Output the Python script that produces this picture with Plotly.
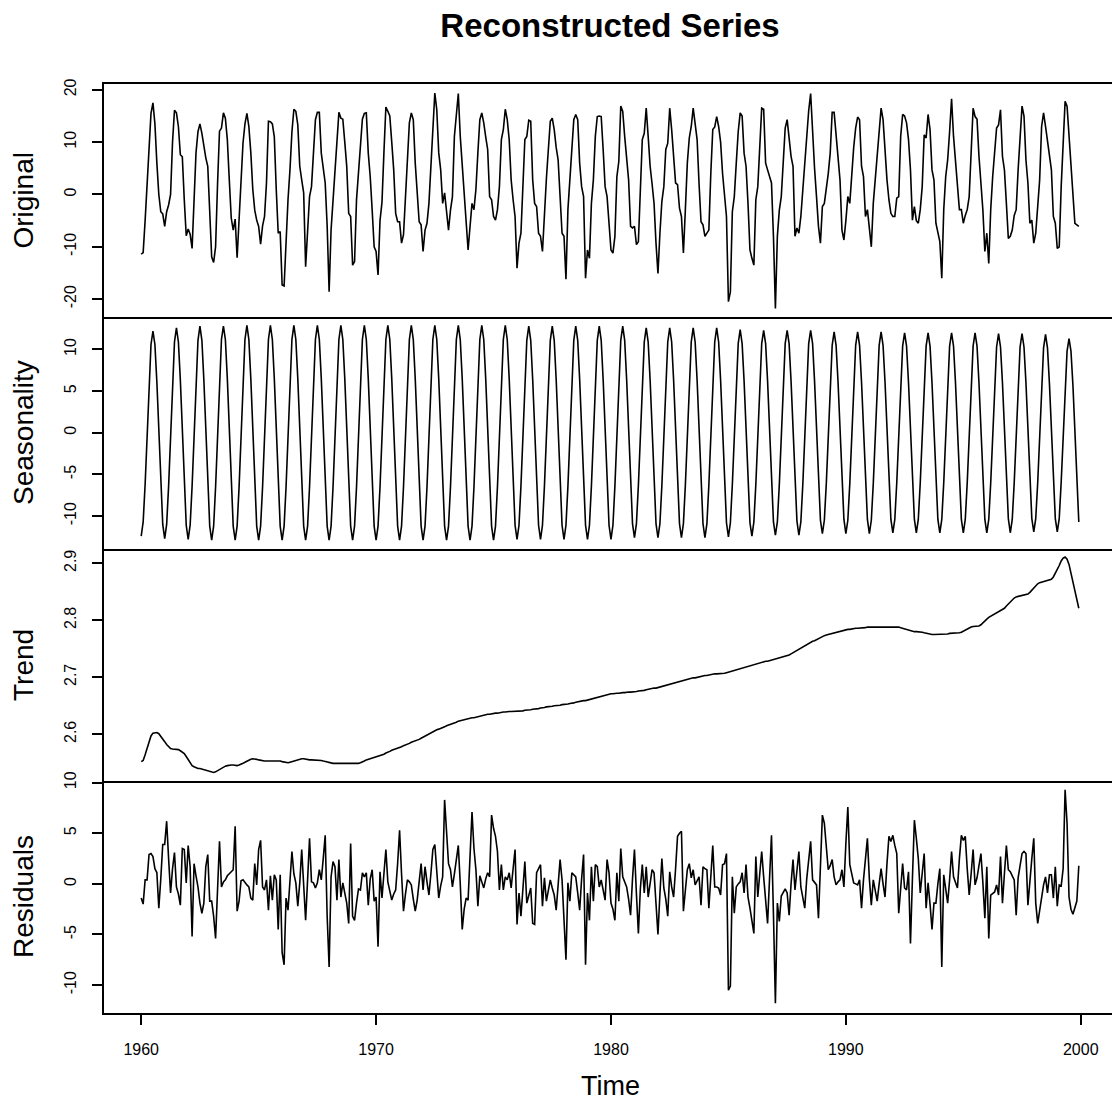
import plotly.graph_objects as go
from plotly.subplots import make_subplots

# ---------------- data (monthly, Jan 1960 - Dec 1999) ----------------
start_year = 1960
frequency = 12

original = [
    -11.4, -11.1, -5.0, 2.5, 10.0, 15.5, 17.5, 13.5, 6.0, 0.0, -3.3, -3.7,
    -6.1, -3.3, -2.0, 0.0, 10.0, 16.1, 15.6, 13.0, 7.6, 7.2, -1.0, -7.9,
    -6.6, -7.6, -10.3, 1.0, 8.0, 12.0, 13.5, 11.7, 9.0, 7.0, 5.4, -3.0,
    -11.9, -13.0, -10.0, 2.0, 12.1, 12.7, 15.6, 14.6, 10.5, 2.8, -4.5, -6.8,
    -4.7, -12.1, -5.0, 0.3, 9.8, 13.5, 15.5, 13.0, 8.0, 1.0, -3.0, -4.9,
    -6.1, -9.5, -6.0, -4.2, 2.2, 14.0, 13.9, 13.5, 11.0, 0.9, -7.4, -7.1,
    -17.3, -17.5, -8.0, -1.0, 4.7, 12.0, 16.3, 15.9, 13.3, 5.4, 2.8, 0.3,
    -13.8, -6.0, -0.4, 1.5, 8.0, 14.3, 15.7, 15.7, 7.9, 5.0, 2.2, -6.0,
    -18.6, -6.8, -1.0, 3.4, 11.1, 15.7, 14.6, 14.4, 10.0, 5.4, -3.6, -4.2,
    -13.5, -12.8, -1.0, 4.0, 7.9, 14.4, 15.5, 15.6, 7.9, 3.4, -3.0, -10.0,
    -10.9, -15.4, -5.0, -1.5, 8.0, 16.7, 15.9, 15.0, 10.0, 4.7, -3.6, -5.2,
    -5.2, -9.3, -7.7, 0.3, 7.0, 13.7, 15.6, 14.3, 6.0, 0.0, -5.2, -5.8,
    -10.9, -6.8, -5.5, -1.7, 5.0, 11.1, 19.4, 16.2, 8.0, 4.7, -1.7, 0.3,
    -3.6, -6.8, -3.0, -0.4, 11.1, 15.0, 19.3, 11.1, 6.0, 1.5, -3.6, -10.6,
    -6.1, -1.7, -2.9, 1.0, 8.0, 14.3, 15.6, 13.7, 11.0, 8.6, -0.4, -1.0,
    -4.2, -4.9, -2.9, 1.5, 10.5, 12.4, 16.3, 14.3, 10.5, 2.8, -1.0, -4.2,
    -14.1, -9.3, -7.4, 2.0, 10.5, 11.1, 14.2, 14.0, 2.8, -1.7, -2.3, -7.4,
    -8.0, -10.9, -2.9, 3.0, 8.6, 14.0, 14.6, 12.4, 9.0, 6.6, -0.4, -7.4,
    -8.0, -16.2, -2.9, 3.4, 9.0, 14.3, 15.3, 14.3, 6.0, 1.5, -0.4, -16.0,
    -10.6, -12.2, -1.7, 2.8, 11.1, 14.9, 15.0, 14.9, 8.6, 1.5, -0.4, -6.0,
    -10.6, -11.2, -8.0, 3.4, 6.3, 16.9, 15.9, 11.1, 6.0, 2.8, -6.1, -6.4,
    -6.1, -9.6, -9.0, 2.0, 10.5, 11.7, 16.5, 11.1, 5.4, 2.0, -1.7, -9.3,
    -15.1, -7.4, -1.3, 1.5, 8.6, 9.8, 16.5, 12.4, 7.0, 2.2, 1.9, -2.6,
    -4.2, -11.2, -2.9, 6.0, 10.8, 13.0, 16.5, 13.7, 10.5, 2.0, -5.2, -5.8,
    -8.0, -7.4, -6.8, 4.0, 12.4, 12.9, 14.9, 13.0, 10.0, 4.0, -1.0, -4.2,
    -20.5, -18.6, -3.3, -0.4, 6.0, 12.0, 15.6, 15.0, 7.9, 5.4, -1.7, -10.6,
    -12.2, -13.5, -1.0, 1.5, 9.0, 16.5, 16.3, 6.0, 4.7, 3.5, 2.2, -8.0,
    -21.8, -8.0, -3.0, -0.4, 7.3, 12.7, 14.3, 11.1, 7.3, 5.4, -8.0, -6.4,
    -7.4, -4.2, 0.9, 6.0, 12.4, 16.0, 19.3, 11.1, 5.0, -0.4, -6.1, -9.3,
    -2.3, -1.7, 0.9, 4.0, 7.9, 15.7, 15.7, 11.1, 6.0, 2.8, -6.8, -8.7,
    -5.0, -0.4, -1.7, 4.7, 9.0, 12.7, 14.8, 14.3, 5.4, 3.4, -4.2, -2.9,
    -6.8, -10.0, -1.7, 3.0, 6.0, 11.1, 16.5, 14.3, 7.3, 2.8, -1.0, -3.6,
    -4.2, -4.2, -0.7, -0.4, 11.1, 15.3, 15.0, 13.7, 10.5, 4.7, -4.9, -2.3,
    -5.0, -5.5, -2.9, 1.5, 11.4, 10.8, 15.3, 12.4, 4.7, 2.8, -5.5, -7.4,
    -9.0, -16.0, -2.9, 3.4, 6.6, 12.0, 18.3, 11.1, 6.0, 2.0, -2.9, -2.9,
    -5.5, -4.0, -2.9, -0.4, 7.9, 16.5, 14.9, 14.4, 7.3, 2.0, -3.0, -10.9,
    -7.4, -13.2, -2.9, 3.4, 8.0, 12.7, 13.3, 16.2, 7.3, 4.7, -1.7, -8.4,
    -8.0, -6.8, -4.0, -2.9, 4.7, 12.0, 16.9, 15.0, 6.6, 2.2, -5.5, -4.9,
    -9.3, -7.4, -2.0, 2.8, 13.0, 15.6, 13.0, 10.0, 7.9, 4.7, -4.2, -5.5,
    -10.3, -10.0, 1.5, 10.0, 17.8, 16.9, 11.1, 4.7, -1.0, -5.5, -5.8, -6.1,
]

seasonality = [
    -12.4, -10.7, -6.2, 0.0, 6.1, 10.6, 12.2, 10.6, 6.1, 0.0, -6.3, -11.0,
    -12.7, -11.0, -6.4, 0.0, 6.3, 10.9, 12.6, 10.9, 6.3, 0.0, -6.4, -11.1,
    -12.8, -11.1, -6.4, 0.0, 6.4, 11.1, 12.8, 11.1, 6.4, 0.0, -6.4, -11.2,
    -12.9, -11.2, -6.5, 0.0, 6.5, 11.2, 12.8, 11.2, 6.5, 0.0, -6.5, -11.2,
    -12.9, -11.2, -6.5, 0.0, 6.5, 11.2, 12.9, 11.2, 6.5, 0.0, -6.5, -11.2,
    -12.9, -11.2, -6.5, 0.0, 6.5, 11.2, 12.9, 11.2, 6.5, 0.0, -6.5, -11.2,
    -12.9, -11.2, -6.5, 0.0, 6.5, 11.2, 12.9, 11.2, 6.5, 0.0, -6.5, -11.2,
    -12.9, -11.2, -6.5, 0.0, 6.5, 11.2, 12.9, 11.2, 6.5, 0.0, -6.5, -11.2,
    -12.9, -11.2, -6.5, 0.0, 6.5, 11.2, 12.9, 11.2, 6.5, 0.0, -6.5, -11.2,
    -12.9, -11.2, -6.5, 0.0, 6.5, 11.2, 12.9, 11.2, 6.5, 0.0, -6.5, -11.2,
    -12.9, -11.2, -6.5, 0.0, 6.5, 11.2, 12.9, 11.2, 6.5, 0.0, -6.5, -11.2,
    -12.9, -11.2, -6.5, 0.0, 6.5, 11.2, 12.9, 11.2, 6.5, 0.0, -6.5, -11.2,
    -12.9, -11.2, -6.5, 0.0, 6.5, 11.2, 12.9, 11.2, 6.5, 0.0, -6.5, -11.2,
    -12.9, -11.2, -6.5, 0.0, 6.5, 11.2, 12.9, 11.2, 6.5, 0.0, -6.5, -11.2,
    -12.9, -11.2, -6.5, 0.0, 6.5, 11.2, 12.9, 11.2, 6.5, 0.0, -6.5, -11.2,
    -12.9, -11.2, -6.5, 0.0, 6.5, 11.2, 12.9, 11.2, 6.5, 0.0, -6.5, -11.1,
    -12.8, -11.1, -6.4, 0.0, 6.4, 11.1, 12.8, 11.1, 6.4, 0.0, -6.4, -11.1,
    -12.8, -11.1, -6.4, 0.0, 6.4, 11.1, 12.8, 11.1, 6.4, 0.0, -6.4, -11.1,
    -12.8, -11.1, -6.4, 0.0, 6.4, 11.1, 12.8, 11.1, 6.4, 0.0, -6.4, -11.1,
    -12.8, -11.1, -6.4, 0.0, 6.4, 11.1, 12.8, 11.1, 6.4, 0.0, -6.4, -11.1,
    -12.8, -11.1, -6.4, 0.0, 6.4, 11.1, 12.8, 11.1, 6.4, 0.0, -6.3, -10.9,
    -12.6, -10.9, -6.3, 0.0, 6.3, 10.9, 12.6, 10.9, 6.3, 0.0, -6.3, -10.9,
    -12.6, -10.9, -6.3, 0.0, 6.3, 10.9, 12.6, 10.9, 6.3, 0.0, -6.3, -10.9,
    -12.6, -10.9, -6.3, 0.0, 6.3, 10.9, 12.6, 10.9, 6.3, 0.0, -6.3, -10.9,
    -12.6, -10.9, -6.3, 0.0, 6.3, 10.9, 12.6, 10.9, 6.3, 0.0, -6.2, -10.8,
    -12.5, -10.8, -6.2, 0.0, 6.2, 10.7, 12.4, 10.7, 6.2, 0.0, -6.2, -10.8,
    -12.4, -10.7, -6.2, 0.0, 6.2, 10.7, 12.3, 10.7, 6.2, 0.0, -6.2, -10.7,
    -12.3, -10.7, -6.2, 0.0, 6.2, 10.7, 12.3, 10.7, 6.2, 0.0, -6.1, -10.6,
    -12.3, -10.7, -6.2, 0.0, 6.2, 10.7, 12.3, 10.7, 6.2, 0.0, -6.1, -10.5,
    -12.1, -10.5, -6.1, 0.0, 6.1, 10.5, 12.1, 10.5, 6.1, 0.0, -6.0, -10.4,
    -12.1, -10.5, -6.1, 0.0, 6.1, 10.5, 12.1, 10.5, 6.1, 0.0, -6.0, -10.4,
    -12.1, -10.5, -6.1, 0.0, 6.1, 10.5, 12.1, 10.5, 6.1, 0.0, -6.0, -10.4,
    -12.0, -10.4, -6.0, 0.0, 6.0, 10.4, 12.0, 10.4, 6.0, 0.0, -6.0, -10.4,
    -12.0, -10.4, -6.0, 0.0, 6.0, 10.4, 12.0, 10.4, 6.0, 0.0, -6.0, -10.4,
    -12.0, -10.4, -6.0, 0.0, 6.0, 10.4, 12.0, 10.4, 6.0, 0.0, -6.0, -10.4,
    -12.0, -10.4, -6.0, 0.0, 6.0, 10.4, 12.0, 10.4, 6.0, 0.0, -6.0, -10.4,
    -12.0, -10.4, -6.0, 0.0, 6.0, 10.3, 11.9, 10.3, 6.0, 0.0, -6.0, -10.3,
    -12.0, -10.4, -6.0, 0.0, 6.0, 10.3, 11.9, 10.3, 6.0, 0.0, -6.0, -10.3,
    -11.9, -10.3, -6.0, 0.0, 5.9, 10.2, 11.8, 10.2, 5.9, 0.0, -5.9, -10.3,
    -11.9, -10.3, -5.9, 0.0, 5.7, 9.8, 11.3, 9.8, 5.7, 0.0, -5.9, -10.7,
]

trend = [
    2.552, 2.554, 2.564, 2.576, 2.588, 2.597, 2.602, 2.603, 2.603, 2.601, 2.597, 2.592,
    2.587, 2.582, 2.578, 2.575, 2.574, 2.574, 2.574, 2.573, 2.571, 2.569, 2.566, 2.561,
    2.555, 2.549, 2.545, 2.543, 2.541, 2.540, 2.540, 2.539, 2.538, 2.537, 2.535, 2.534,
    2.533, 2.533, 2.534, 2.536, 2.539, 2.541, 2.543, 2.544, 2.545, 2.546, 2.546, 2.546,
    2.545, 2.545, 2.546, 2.547, 2.549, 2.551, 2.553, 2.555, 2.556, 2.557, 2.557, 2.556,
    2.555, 2.554, 2.554, 2.553, 2.553, 2.553, 2.553, 2.554, 2.554, 2.554, 2.553, 2.553,
    2.552, 2.551, 2.550, 2.550, 2.551, 2.552, 2.553, 2.554, 2.555, 2.557, 2.557, 2.557,
    2.556, 2.556, 2.555, 2.555, 2.555, 2.555, 2.555, 2.555, 2.554, 2.553, 2.552, 2.551,
    2.550, 2.549, 2.549, 2.549, 2.549, 2.549, 2.549, 2.549, 2.549, 2.549, 2.548, 2.548,
    2.548, 2.548, 2.548, 2.549, 2.550, 2.551, 2.553, 2.555, 2.556, 2.557, 2.558, 2.559,
    2.560, 2.561, 2.562, 2.564, 2.565, 2.567, 2.568, 2.570, 2.572, 2.573, 2.574, 2.575,
    2.577, 2.578, 2.580, 2.581, 2.583, 2.584, 2.586, 2.587, 2.588, 2.590, 2.591, 2.593,
    2.595, 2.596, 2.598, 2.600, 2.602, 2.604, 2.606, 2.608, 2.609, 2.610, 2.612, 2.613,
    2.615, 2.616, 2.617, 2.619, 2.620, 2.621, 2.623, 2.624, 2.625, 2.626, 2.626, 2.627,
    2.628, 2.629, 2.629, 2.630, 2.631, 2.632, 2.632, 2.633, 2.634, 2.635, 2.635, 2.636,
    2.636, 2.637, 2.637, 2.638, 2.638, 2.639, 2.639, 2.640, 2.640, 2.640, 2.640, 2.640,
    2.640, 2.641, 2.641, 2.641, 2.642, 2.642, 2.643, 2.643, 2.644, 2.644, 2.645, 2.645,
    2.646, 2.646, 2.647, 2.648, 2.648, 2.649, 2.649, 2.650, 2.650, 2.651, 2.651, 2.652,
    2.652, 2.653, 2.653, 2.654, 2.654, 2.655, 2.656, 2.657, 2.657, 2.658, 2.659, 2.659,
    2.660, 2.661, 2.662, 2.663, 2.664, 2.665, 2.666, 2.667, 2.668, 2.669, 2.670, 2.670,
    2.671, 2.671, 2.672, 2.672, 2.672, 2.673, 2.673, 2.673, 2.674, 2.674, 2.674, 2.674,
    2.675, 2.675, 2.676, 2.676, 2.677, 2.677, 2.678, 2.679, 2.679, 2.680, 2.681, 2.681,
    2.682, 2.683, 2.684, 2.685, 2.686, 2.687, 2.688, 2.689, 2.690, 2.691, 2.692, 2.693,
    2.694, 2.695, 2.696, 2.697, 2.698, 2.698, 2.699, 2.699, 2.700, 2.700, 2.701, 2.702,
    2.703, 2.703, 2.704, 2.705, 2.705, 2.706, 2.706, 2.706, 2.707, 2.707, 2.707, 2.708,
    2.709, 2.710, 2.711, 2.712, 2.713, 2.714, 2.715, 2.716, 2.717, 2.718, 2.719, 2.720,
    2.722, 2.723, 2.724, 2.725, 2.726, 2.727, 2.727, 2.728, 2.728, 2.729, 2.729, 2.730,
    2.731, 2.732, 2.733, 2.734, 2.736, 2.737, 2.738, 2.739, 2.741, 2.743, 2.745, 2.747,
    2.749, 2.751, 2.753, 2.756, 2.757, 2.759, 2.761, 2.763, 2.764, 2.766, 2.768, 2.770,
    2.771, 2.773, 2.774, 2.775, 2.776, 2.777, 2.778, 2.779, 2.780, 2.781, 2.782, 2.782,
    2.783, 2.784, 2.784, 2.785, 2.786, 2.786, 2.786, 2.786, 2.786, 2.786, 2.787, 2.788,
    2.788, 2.789, 2.789, 2.789, 2.789, 2.789, 2.789, 2.789, 2.789, 2.789, 2.789, 2.789,
    2.789, 2.789, 2.789, 2.788, 2.787, 2.786, 2.785, 2.784, 2.782, 2.781, 2.781, 2.780,
    2.780, 2.780, 2.780, 2.779, 2.778, 2.777, 2.776, 2.775, 2.775, 2.775, 2.775, 2.775,
    2.775, 2.775, 2.775, 2.776, 2.776, 2.777, 2.777, 2.777, 2.777, 2.778, 2.778, 2.779,
    2.781, 2.783, 2.785, 2.787, 2.788, 2.789, 2.789, 2.790, 2.790, 2.792, 2.796, 2.799,
    2.802, 2.805, 2.807, 2.809, 2.811, 2.813, 2.815, 2.817, 2.818, 2.821, 2.825, 2.829,
    2.833, 2.837, 2.839, 2.841, 2.842, 2.843, 2.843, 2.844, 2.845, 2.846, 2.849, 2.853,
    2.857, 2.861, 2.864, 2.866, 2.867, 2.868, 2.868, 2.869, 2.870, 2.872, 2.876, 2.882,
    2.889, 2.896, 2.904, 2.909, 2.911, 2.907, 2.898, 2.882, 2.866, 2.850, 2.835, 2.821,
]

residuals = [
    -1.4, -2.0, 0.4, 0.4, 2.9, 3.0, 2.7, 1.5, 1.1, -2.4, 0.5, 3.9,
    3.9, 6.2, 2.5, -0.9, 1.5, 3.1, -0.3, -1.0, -2.1, 3.5, 3.4, 0.1,
    3.8, 1.7, -5.2, 2.0, 0.8, -0.3, -1.9, -2.9, -1.9, 1.7, 2.9, -1.7,
    -1.7, -3.2, -5.4, -0.3, 4.2, -0.3, 0.2, 0.4, 0.8, 1.0, 1.2, 1.4,
    5.7, -2.7, -1.7, 0.3, 0.4, 0.1, -0.1, -0.3, -1.4, -1.6, 2.0, -0.1,
    3.4, 4.3, -0.3, -0.6, 0.4, -2.6, 0.8, -1.6, 0.9, 0.4, -4.5, 0.9,
    -6.8, -8.0, -1.4, -2.6, 0.7, 3.2, 1.0, 0.1, -2.2, 0.1, 3.4, -0.3,
    -3.6, 0.4, 4.5, 0.2, 0.1, -0.4, 0.1, 1.4, 0.4, 2.5, 4.8, -3.2,
    -8.2, 0.7, 2.2, 1.7, -1.6, 2.4, -1.3, 0.1, -1.0, -1.9, -3.9, 4.0,
    -3.2, -3.6, -1.9, -0.5, -0.6, 1.1, 0.7, 1.1, -2.1, 0.5, 1.4, -1.7,
    -1.3, -6.2, 1.2, -1.4, 1.0, 3.4, 0.2, -0.8, -1.6, -1.0, -0.6, 2.0,
    5.3, 1.0, -2.7, -1.0, 0.4, 0.2, -0.1, -1.5, -2.7, -1.6, 0.5, 2.0,
    -0.6, 1.7, 0.2, -1.1, 1.0, 3.4, 3.9, 1.0, -1.4, -0.2, 0.7, 8.3,
    4.5, 2.0, 1.4, -0.3, 1.0, 2.5, 3.8, 0.0, -4.5, -2.5, -1.4, -1.6,
    3.0, 7.1, 3.5, 1.4, -2.2, 0.8, 0.2, -0.4, 0.5, 1.1, 0.7, 6.8,
    5.5, 4.7, 3.2, -0.6, 1.9, -0.6, 0.7, 0.4, 1.1, -0.4, 1.5, 3.4,
    -4.0, -0.9, -3.2, -0.5, 2.2, -1.9, -1.0, -0.4, -3.9, -4.0, 1.1, 1.5,
    1.9, -2.2, 0.6, -1.7, -0.5, 0.4, -0.4, -1.1, -2.6, 0.0, 2.4, 0.4,
    -3.0, -7.5, 0.1, -1.7, 1.1, 0.9, 0.7, -0.9, -2.6, 0.5, 2.9, -8.0,
    -0.9, -3.6, 1.7, -1.7, 1.9, 1.7, -0.3, 0.4, -0.5, -1.6, 2.4, 1.1,
    -1.9, -2.5, -3.6, 1.1, -1.7, 3.5, 0.7, 0.2, -0.3, -1.5, -3.1, 0.5,
    3.4, -1.0, -4.9, -0.5, 1.9, -0.9, 1.7, -1.3, 0.0, 1.4, 1.1, -2.0,
    -5.0, -1.0, 2.5, -0.4, -1.5, -3.2, 1.2, -0.3, -1.3, 1.5, 4.7, 5.0,
    5.2, -2.7, -0.5, 1.4, 2.0, 0.6, 1.4, -0.1, 0.3, 0.7, -2.1, 1.7,
    1.5, 1.4, -2.4, 0.5, 3.8, -0.3, -0.3, -0.4, -1.1, 1.9, 2.0, 3.0,
    -10.5, -10.1, 0.7, -2.9, -0.3, 0.0, 0.2, 1.1, -0.9, 1.9, -1.3, -2.4,
    -3.5, -4.9, 2.7, -1.3, 1.0, 3.2, 0.7, -1.5, -3.9, 0.5, 4.8, -3.0,
    -11.8, -1.9, -3.7, -1.2, -0.8, -0.5, -0.9, -3.1, 0.0, 2.4, -0.6, 1.5,
    3.2, -0.3, -1.2, -2.4, 0.5, 2.2, 4.2, 0.4, 0.1, -0.1, -3.4, 2.0,
    6.8, 6.0, 3.5, 1.4, 1.8, 2.4, 0.7, -0.1, 0.2, 0.4, 1.4, -0.3,
    4.0, 7.6, 1.9, 0.8, 0.1, 0.0, -0.1, 0.4, -2.4, 0.4, 2.5, 4.5,
    0.5, -2.1, 0.4, -0.6, -1.7, 0.0, 1.5, 0.0, -1.3, 2.0, 4.7, 4.2,
    4.8, 3.8, 3.0, -2.9, 0.0, 2.0, -0.4, -0.6, 1.2, -5.9, 0.5, 6.3,
    4.5, 2.5, -0.9, 1.0, 3.0, -2.4, 0.1, -2.0, -4.5, -1.9, -1.9, 0.0,
    1.5, -8.2, 0.9, -0.5, -1.9, 0.4, 3.2, 0.7, 0.1, -0.4, 2.5, 4.8,
    4.3, 4.7, 1.5, -1.1, 1.0, 3.4, -0.1, 0.6, 1.8, 3.0, 0.1, -3.4,
    1.7, -5.4, -1.1, -0.9, -0.8, -0.1, -1.1, 2.7, -1.9, 1.0, 3.8, 1.4,
    1.2, 0.8, 0.4, -3.1, 0.6, 1.8, 3.0, 3.2, 3.0, -2.1, 0.7, 2.5,
    4.5, -1.9, -3.9, -2.5, -1.4, -0.1, 0.7, -0.9, 0.9, 0.9, -1.4, 1.7,
    -2.2, -0.1, -0.2, 1.5, 9.3, 6.0, -1.3, -2.5, -3.0, -2.2, -1.7, 1.8,
]

panel_titles = ["Original", "Seasonality", "Trend", "Residuals"]
y_tick_values = [[-20, -10, 0, 10, 20], [-10, -5, 0, 5, 10], [2.6, 2.7, 2.8, 2.9], [-10, -5, 0, 5, 10]]
y_tick_labels = [["-20", "-10", "0", "10", "20"], ["-10", "-5", "0", "5", "10"],
                 ["2.6", "2.7", "2.8", "2.9"], ["-10", "-5", "0", "5", "10"]]
x_tick_values = [1960, 1970, 1980, 1990, 2000]
x_tick_labels = ["1960", "1970", "1980", "1990", "2000"]
main_title = "Reconstructed Series"
x_title = "Time"

# ---------------- layout constants ----------------
W, H = 1112, 1101
L, R, T, B = 104, 0, 84, 88
panel_px = [(84, 317), (317, 549), (549, 781), (781, 1013)]
y_ranges = [[-23.42, 21.12], [-13.95, 13.9], [2.518, 2.925], [-12.76, 10.17]]
x_range = [1958.416, 2001.33]
FONT = "Liberation Sans, Arial, Helvetica, sans-serif"
plot_h = H - T - B

time = [start_year + i / frequency for i in range(len(original))]
series = [original, seasonality, trend, residuals]

fig = make_subplots(rows=4, cols=1, shared_xaxes=True, vertical_spacing=0)

for i, s in enumerate(series):
    fig.add_trace(
        go.Scatter(x=time, y=s, mode="lines",
                   line=dict(color="black", width=1.6), showlegend=False,
                   hoverinfo="skip"),
        row=i + 1, col=1)

for i in range(4):
    top, bot = panel_px[i]
    dom = [(H - B - bot) / plot_h, (H - B - top) / plot_h]
    ax = "yaxis" if i == 0 else f"yaxis{i + 1}"
    xa = "xaxis" if i == 0 else f"xaxis{i + 1}"
    fig.layout[ax].update(
        domain=dom, range=y_ranges[i], showgrid=False, zeroline=False,
        showline=True, linecolor="black", linewidth=2, mirror=False,
        ticks="outside", ticklen=10, tickwidth=1.6, tickcolor="black",
        tickvals=y_tick_values[i], ticktext=y_tick_labels[i], tickangle=-90,
        tickfont=dict(family=FONT, size=16, color="black"),
        ticklabelstandoff=10,
    )
    last = (i == 3)
    fig.layout[xa].update(
        range=x_range, showgrid=False, zeroline=False,
        showline=True, linecolor="black", linewidth=2, mirror=(i == 0),
        ticks="outside" if last else "", ticklen=10, tickwidth=1.6, tickcolor="black",
        tickvals=x_tick_values if last else [], ticktext=x_tick_labels if last else [],
        showticklabels=last,
        tickfont=dict(family=FONT, size=16, color="black"),
        ticklabelstandoff=11,
    )
    # panel (y axis) title
    fig.add_annotation(
        text=panel_titles[i], xref="paper", yref="paper",
        x=(23 - L) / (W - L - R), y=1 - ((top + bot) / 2 - T) / plot_h,
        textangle=-90, showarrow=False, xanchor="center", yanchor="middle",
        font=dict(family=FONT, size=28, color="black"))

fig.add_annotation(
    text=x_title, xref="paper", yref="paper",
    x=(610 - L) / (W - L - R), y=1 - (1086 - T) / plot_h,
    showarrow=False, xanchor="center", yanchor="middle",
    font=dict(family=FONT, size=27, color="black"))

fig.update_layout(
    width=W, height=H,
    margin=dict(l=L, r=R, t=T, b=B, autoexpand=False),
    paper_bgcolor="white", plot_bgcolor="white",
    title=dict(text="<b>" + main_title + "</b>", x=(610 - L) / (W - L - R), xref="paper",
               xanchor="center", y=1 - 25 / H, yref="container", yanchor="middle",
               font=dict(family=FONT, size=33, color="black")),
    showlegend=False,
)

fig.write_html("out.html", config={"displayModeBar": False},
               post_script="document.body.style.margin='0px';")
